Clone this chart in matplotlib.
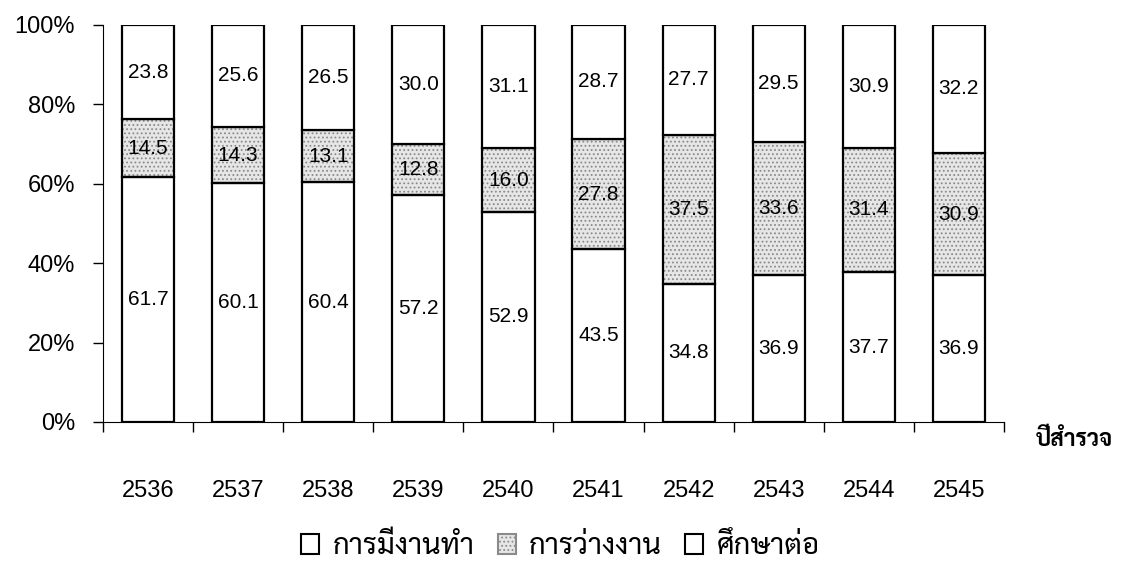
import matplotlib
matplotlib.use('Agg')
import matplotlib.pyplot as plt
import numpy as np
from matplotlib.patches import Patch

plt.rcParams['font.family'] = ['Liberation Sans', 'Sarabun', 'Noto Sans Thai', 'DejaVu Sans']
plt.rcParams['hatch.linewidth'] = 0.8

years = ['2536', '2537', '2538', '2539', '2540', '2541', '2542', '2543', '2544', '2545']
employed = [61.7, 60.1, 60.4, 57.2, 52.9, 43.5, 34.8, 36.9, 37.7, 36.9]
unemployed = [14.5, 14.3, 13.1, 12.8, 16.0, 27.8, 37.5, 33.6, 31.4, 30.9]
study = [23.8, 25.6, 26.5, 30.0, 31.1, 28.7, 27.7, 29.5, 30.9, 32.2]
series_names = ['การมีงานทำ', 'การว่างงาน', 'ศึกษาต่อ']

# normalise to 100% like the stacked percent chart
tot = np.array(employed) + np.array(unemployed) + np.array(study)
e = np.array(employed) / tot * 100
u = np.array(unemployed) / tot * 100
s = np.array(study) / tot * 100

fig = plt.figure(figsize=(11.21, 5.64), dpi=100)
ax = fig.add_axes([0.0919, 0.2518, 0.8037, 0.7039])

x = np.arange(len(years))
w = 0.58
lw = 1.6

# texture for the middle (unemployed) part
ax.bar(x, u, w, bottom=e, color='#e6e6e6', edgecolor='#8a8a8a', hatch='....', linewidth=0)
ax.bar(x, e, w, color='white', edgecolor='black', linewidth=lw)
ax.bar(x, u, w, bottom=e, color='none', edgecolor='black', linewidth=lw)
ax.bar(x, s, w, bottom=e + u, color='white', edgecolor='black', linewidth=lw)

for i in range(len(years)):
    ax.text(x[i], e[i] / 2, '%.1f' % employed[i], ha='center', va='center', fontsize=15)
    ax.text(x[i], e[i] + u[i] / 2, '%.1f' % unemployed[i], ha='center', va='center', fontsize=15)
    ax.text(x[i], e[i] + u[i] + s[i] / 2, '%.1f' % study[i], ha='center', va='center', fontsize=15)

ax.set_xlim(-0.5, len(years) - 0.5)
ax.set_ylim(0, 100)
ax.set_yticks([0, 20, 40, 60, 80, 100])
ax.set_yticklabels(['%d%%' % v for v in [0, 20, 40, 60, 80, 100]], fontsize=17)
ax.tick_params(axis='y', direction='out', length=7, width=1, pad=13)

ax.set_xticks(np.arange(len(years) + 1) - 0.5)
ax.set_xticklabels([])
ax.tick_params(axis='x', which='major', direction='out', length=7, width=1)
ax.set_xticks(x, minor=True)
ax.set_xticklabels(years, minor=True, fontsize=17)
ax.tick_params(axis='x', which='minor', length=0, pad=42)

ax.spines['top'].set_visible(False)
ax.spines['right'].set_visible(False)

fig.text(0.924, 0.22, 'ปีสำรวจ', fontsize=16.5, fontweight='bold', ha='left', va='center')

handles = [Patch(facecolor='white', edgecolor='black', linewidth=1.5),
           Patch(facecolor='#e6e6e6', edgecolor='#8a8a8a', hatch='....', linewidth=1.5),
           Patch(facecolor='white', edgecolor='black', linewidth=1.5)]
fig.legend(handles, series_names, loc='center', bbox_to_anchor=(0.5, 0.032), ncol=3,
           frameon=False, fontsize=21, handlelength=0.62, handleheight=0.7,
           handletextpad=0.45, columnspacing=0.8, borderpad=0)

fig.savefig('out.png', dpi=100)
